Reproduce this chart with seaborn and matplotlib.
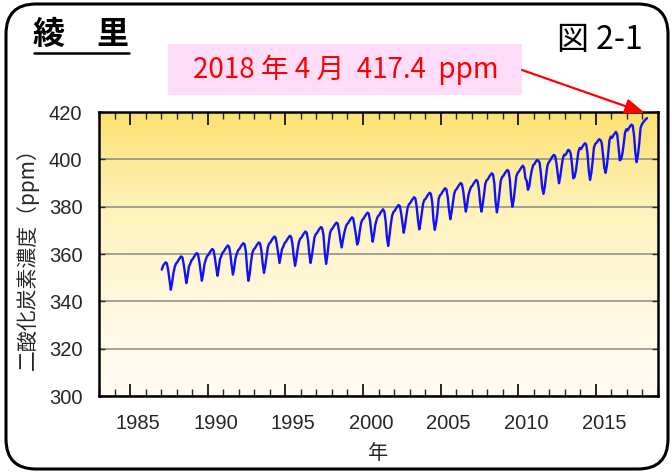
import numpy as np
import pandas as pd
import matplotlib
matplotlib.use("Agg")
import matplotlib.pyplot as plt
import seaborn as sns
from matplotlib.patches import FancyBboxPatch, Rectangle
from matplotlib.transforms import ScaledTranslation

# ---- data: monthly CO2 (ppm) at Ryori ----
co2_1987 = [353.4, 355.0, 355.8, 356.5, 356.0, 353.0, 348.9, 344.9, 347.9, 351.9, 354.5, 356.0]
co2_1988 = [356.5, 357.5, 358.3, 359.0, 358.5, 355.5, 351.7, 347.7, 350.7, 354.7, 355.9, 357.4]
co2_1989 = [357.9, 358.9, 359.7, 360.4, 359.9, 356.9, 352.7, 348.7, 351.7, 355.7, 357.6, 359.1]
co2_1990 = [359.6, 360.6, 361.4, 362.1, 361.6, 358.6, 354.8, 350.8, 353.8, 357.8, 359.1, 360.6]
co2_1991 = [361.1, 362.1, 362.9, 363.6, 363.1, 360.1, 355.3, 351.3, 354.3, 358.3, 360.1, 361.6]
co2_1992 = [362.1, 363.1, 363.9, 364.6, 364.1, 361.1, 353.5, 348.7, 351.7, 356.7, 360.4, 361.9]
co2_1993 = [362.4, 363.4, 364.2, 364.9, 364.4, 361.4, 356.0, 352.0, 355.0, 359.0, 362.9, 364.4]
co2_1994 = [364.9, 365.9, 366.7, 367.4, 366.9, 363.9, 360.2, 356.2, 359.2, 362.2, 363.2, 364.7]
co2_1995 = [365.2, 366.2, 367.0, 367.7, 367.2, 364.2, 359.0, 355.0, 358.0, 362.0, 365.0, 366.5]
co2_1996 = [367.0, 368.0, 368.8, 369.5, 369.0, 366.0, 360.2, 356.2, 359.2, 363.2, 366.9, 368.4]
co2_1997 = [368.9, 369.9, 370.7, 371.4, 370.9, 367.9, 360.5, 355.8, 359.5, 364.5, 368.8, 370.3]
co2_1998 = [370.8, 371.8, 372.6, 373.3, 372.8, 369.8, 366.0, 362.8, 365.8, 368.8, 371.0, 372.5]
co2_1999 = [373.0, 374.0, 374.8, 375.5, 375.0, 371.5, 368.2, 364.0, 365.5, 369.5, 373.0, 374.5]
co2_2000 = [375.0, 376.0, 376.8, 377.5, 377.0, 374.0, 369.2, 365.2, 368.2, 372.2, 374.4, 375.9]
co2_2001 = [376.4, 377.4, 378.2, 378.9, 378.0, 374.0, 367.0, 363.4, 368.0, 372.4, 376.2, 377.7]
co2_2002 = [378.2, 379.2, 380.0, 380.7, 380.2, 377.2, 373.0, 369.0, 372.0, 376.0, 379.5, 381.0]
co2_2003 = [381.5, 382.5, 383.3, 384.0, 383.5, 380.0, 374.4, 370.4, 373.4, 377.4, 381.4, 382.9]
co2_2004 = [383.4, 384.4, 385.2, 385.9, 385.4, 382.0, 374.2, 370.2, 373.2, 377.2, 383.3, 384.8]
co2_2005 = [385.3, 386.3, 387.1, 387.8, 387.3, 384.0, 378.7, 374.7, 377.7, 381.7, 385.5, 387.0]
co2_2006 = [387.5, 388.5, 389.3, 390.0, 389.5, 386.5, 381.9, 377.9, 380.9, 384.9, 386.8, 388.3]
co2_2007 = [388.8, 389.8, 390.6, 391.3, 390.8, 387.8, 381.9, 377.9, 380.9, 384.9, 389.6, 391.1]
co2_2008 = [391.6, 392.6, 393.4, 394.1, 393.6, 390.0, 382.0, 377.6, 381.0, 386.0, 391.0, 392.5]
co2_2009 = [393.0, 394.0, 394.8, 395.5, 395.0, 391.5, 384.0, 380.0, 383.0, 388.0, 392.8, 394.3]
co2_2010 = [394.8, 395.8, 396.6, 397.3, 396.5, 392.0, 391.0, 387.1, 388.5, 392.5, 395.5, 397.5]
co2_2011 = [398.0, 399.0, 399.7, 399.5, 398.5, 394.0, 388.0, 385.4, 388.4, 393.0, 397.2, 398.7]
co2_2012 = [399.4, 400.4, 401.2, 401.9, 401.4, 398.4, 393.9, 389.9, 392.9, 396.9, 400.5, 402.0]
co2_2013 = [401.8, 402.8, 404.0, 403.8, 402.5, 398.0, 392.0, 392.5, 395.0, 399.0, 403.3, 404.8]
co2_2014 = [404.3, 405.3, 406.1, 406.8, 406.3, 402.5, 395.3, 391.3, 394.3, 399.3, 405.0, 406.5]
co2_2015 = [407.0, 407.8, 408.5, 408.2, 407.0, 402.0, 396.5, 394.3, 397.3, 402.3, 408.1, 409.6]
co2_2016 = [409.1, 410.1, 410.9, 411.6, 410.5, 405.0, 399.6, 400.0, 402.5, 406.5, 411.2, 412.7]
co2_2017 = [412.2, 413.2, 414.0, 414.7, 414.2, 410.0, 402.8, 398.8, 401.8, 406.8, 413.2, 414.7]
co2_2018 = [415.6, 416.3, 416.9, 417.4]

data_years = list(range(1987, 2019))
xtick_years = [1985, 1990, 1995, 2000, 2005, 2010, 2015]
ytick_values = [300, 320, 340, 360, 380, 400, 420]

title_text = "綾\u3000里"
fig_label = "図 2-1"
note_text = "2018 年 4 月  417.4  ppm"
ylabel_text = "二酸化炭素濃度（ppm）"
xlabel_text = "年"

series = [co2_1987, co2_1988, co2_1989, co2_1990, co2_1991, co2_1992, co2_1993,
          co2_1994, co2_1995, co2_1996, co2_1997, co2_1998, co2_1999, co2_2000,
          co2_2001, co2_2002, co2_2003, co2_2004, co2_2005, co2_2006, co2_2007,
          co2_2008, co2_2009, co2_2010, co2_2011, co2_2012, co2_2013, co2_2014,
          co2_2015, co2_2016, co2_2017, co2_2018]

rows = []
for yr, vals in zip(data_years, series):
    for m, v in enumerate(vals, start=1):
        rows.append((yr + (m - 0.5) / 12.0, v))
df = pd.DataFrame(rows, columns=["t", "co2"])

# ---- styling ----
sns.set_style("white")
plt.rcParams["font.family"] = ["Liberation Sans", "Noto Sans CJK JP", "DejaVu Sans"]
cjk = ["Noto Sans CJK JP", "DejaVu Sans"]

W, H = 672, 472
fig = plt.figure(figsize=(W / 100, H / 100), dpi=100)
fig.patch.set_facecolor("white")

L, R, T, B = 99, 658, 112, 396
ax = fig.add_axes([L / W, 1 - B / H, (R - L) / W, (B - T) / H], zorder=2)

x0, x1, y0, y1 = 1983, 2019, 300, 420
# gradient background (top -> bottom)
stops = np.array([0.0, 1 / 6, 2 / 6, 3 / 6, 4 / 6, 5 / 6, 1.0])
cols = np.array([[252, 224, 112], [253, 234, 150], [254, 241, 184], [255, 245, 206],
                 [255, 248, 222], [255, 250, 234], [255, 252, 243]]) / 255
f = np.linspace(0, 1, 300)
grad = np.stack([np.interp(f, stops, cols[:, k]) for k in range(3)], axis=1)[:, None, :]
ax.imshow(grad, extent=[x0, x1, y0, y1], aspect="auto", origin="upper", zorder=0,
          interpolation="bicubic")

sns.lineplot(data=df, x="t", y="co2", ax=ax, color="#1010ff", linewidth=1.7,
             zorder=3, estimator=None, sort=False)

ax.set_xlim(x0, x1)
ax.set_ylim(y0, y1)
ax.set_xticks(xtick_years)
ax.set_xticklabels([str(y) for y in xtick_years])
ax.set_xticks(list(range(1983, 2020)), minor=True)
ax.set_yticks(ytick_values)
ax.set_yticklabels([str(v) for v in ytick_values])

ax.tick_params(axis="x", which="major", direction="in", length=9, width=1.2,
               top=True, bottom=True, labelsize=14.5, pad=13, color="black")
ax.tick_params(axis="x", which="minor", direction="in", length=5, width=1.0,
               top=True, bottom=True)
ax.tick_params(axis="y", which="major", direction="in", length=4, width=1.0,
               left=True, right=True, labelsize=14.5, pad=12)

shift = ScaledTranslation(8 / 100, 0, fig.dpi_scale_trans)
for lbl in ax.get_xticklabels():
    lbl.set_transform(lbl.get_transform() + shift)

ax.grid(axis="y", color="#8a8a80", linewidth=1.1, zorder=1)
ax.grid(axis="x", visible=False)
ax.set_axisbelow(False)
for s in ax.spines.values():
    s.set_color("black")
    s.set_linewidth(1.8)
    s.set_zorder(5)

ax.set_ylabel(ylabel_text, fontsize=15, family=cjk, labelpad=7)
ax.set_xlabel(xlabel_text, fontsize=14.5, family=cjk, labelpad=7)

# ---- overlay for frame and annotations (pixel coordinates) ----
ov = fig.add_axes([0, 0, 1, 1], zorder=10)
ov.set_xlim(0, W)
ov.set_ylim(H, 0)
ov.axis("off")
ov.patch.set_alpha(0)

frame = FancyBboxPatch((6, 4), 662, 465, boxstyle="round,pad=0,rounding_size=30",
                       facecolor="none", edgecolor="black", linewidth=2.2)
ov.add_patch(frame)

ov.text(33, 35, title_text, fontsize=23, fontweight="bold", family=cjk,
        ha="left", va="center", color="black")
ov.plot([34, 129], [52.5, 52.5], color="black", linewidth=1.8)
ov.text(643, 40, fig_label, fontsize=23, family=cjk, ha="right", va="center",
        color="black")

ov.add_patch(Rectangle((168, 44), 354, 51, facecolor="#ffdcf8", edgecolor="none"))
ov.text(346, 70, note_text, fontsize=20, family=cjk, ha="center", va="center",
        color="#ff0000")
ov.annotate("", xy=(645, 113), xytext=(522, 70),
            arrowprops=dict(arrowstyle="-|>,head_length=1.2,head_width=0.45",
                            color="#ff0000", lw=1.6, shrinkA=0, shrinkB=0))

fig.savefig("out.png", dpi=100)
